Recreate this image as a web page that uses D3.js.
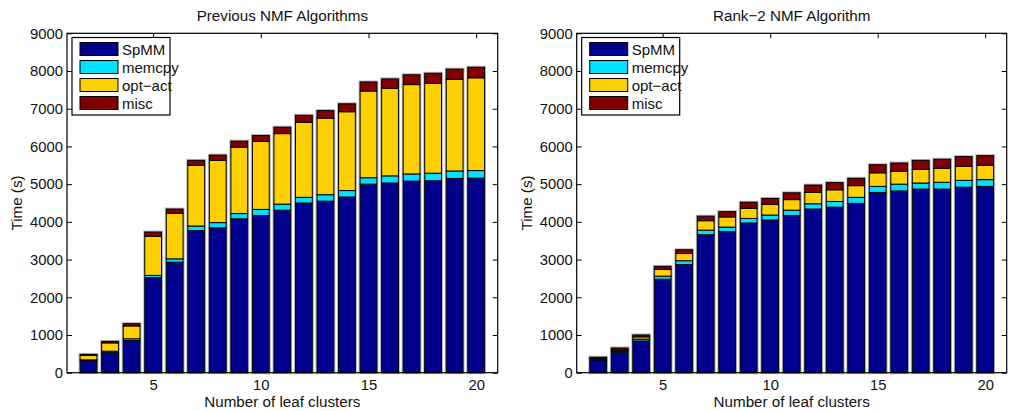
<!DOCTYPE html>
<html><head><meta charset="utf-8">
<script src="https://cdn.jsdelivr.net/npm/d3@7"></script>
<style>
body{margin:0;background:#fff;}
text{font-family:"Liberation Sans",Arial,Helvetica,sans-serif;}
</style></head>
<body><svg id="c" width="1011" height="411"></svg>
<script>
const clusters = [2,3,4,5,6,7,8,9,10,11,12,13,14,15,16,17,18,19,20];
const seriesNames = ["SpMM","memcpy","opt\u2212act","misc"];
const seriesColors = ["#00008f","#00e0ff","#ffd000","#800000"];
const yTicks = [0,1000,2000,3000,4000,5000,6000,7000,8000,9000];
const xTicks = [5,10,15,20];

// Previous NMF Algorithms
const prevSpMM   = [330,540,850,2520,2930,3770,3840,4080,4170,4310,4500,4550,4660,5000,5030,5080,5090,5150,5160];
const prevMemcpy = [10,30,50,60,90,120,140,140,160,160,150,170,170,170,190,190,200,200,200];
const prevOptAct = [120,220,340,1040,1210,1610,1650,1760,1800,1870,1990,2030,2090,2300,2320,2370,2380,2430,2460];
const prevMisc   = [25,40,60,110,110,130,140,160,160,170,185,200,210,240,250,260,270,270,280];

// Rank-2 NMF Algorithm
const r2SpMM   = [340,545,840,2480,2870,3660,3740,3970,4050,4170,4340,4390,4490,4780,4820,4870,4870,4920,4940];
const r2Memcpy = [20,30,50,80,100,120,120,120,130,140,140,150,160,160,180,160,180,180,180];
const r2OptAct = [20,30,60,180,190,250,270,270,280,280,300,310,310,360,340,360,370,370,380];
const r2Misc   = [30,50,50,80,100,120,140,160,160,180,195,190,195,215,220,240,240,260,255];

const svg = d3.select("#c");
const plotTop = 33.3, plotBottom = 372.7;
const FS = "15.2px";

function panel(x0, x1, title, series){
  const g = svg.append("g");
  const x = d3.scaleLinear().domain([1,21]).range([x0,x1]);
  const y = d3.scaleLinear().domain([0,9000]).range([plotBottom,plotTop]);
  const bw = x(1.78) - x(1);

  // axes
  const ax = g.append("g").attr("class","axes");
  ax.append("g").attr("transform",`translate(${x0},0)`)
    .call(d3.axisLeft(y).tickValues(yTicks).tickSize(-5).tickPadding(4).tickFormat(d3.format("d")));
  ax.append("g").attr("transform",`translate(${x1},0)`)
    .call(d3.axisRight(y).tickValues(yTicks).tickSize(-5).tickFormat(""));
  ax.append("g").attr("transform",`translate(0,${plotTop})`)
    .call(d3.axisTop(x).tickValues(xTicks).tickSize(-5).tickFormat(""));
  ax.append("g").attr("transform",`translate(0,${plotBottom})`)
    .call(d3.axisBottom(x).tickValues(xTicks).tickSize(-5).tickPadding(7).tickFormat(d3.format("d")));
  ax.selectAll(".domain").remove();
  ax.selectAll("line").attr("stroke","#000");
  ax.selectAll("text").attr("font-size","14.8px").attr("fill","#111")
    .attr("font-family","'Liberation Sans',Arial,sans-serif");

  // stacked bars
  const rows = clusters.map((c,i)=>{
    const o={c};
    series.forEach((s,k)=>o["s"+k]=s[i]);
    return o;
  });
  const keys = series.map((s,k)=>"s"+k);
  const stack = d3.stack().keys(keys)(rows);
  // light halo around each whole bar
  g.append("g").selectAll("rect").data(rows).join("rect")
    .attr("x",d=>x(d.c)-bw/2)
    .attr("width",bw)
    .attr("y",d=>y(d3.sum(keys,k=>d[k])))
    .attr("height",d=>y(0)-y(d3.sum(keys,k=>d[k])))
    .attr("fill","none").attr("stroke","#b8b8b8").attr("stroke-width",3);
  stack.forEach((layer,k)=>{
    g.append("g").selectAll("rect").data(layer).join("rect")
      .attr("x",d=>x(d.data.c)-bw/2)
      .attr("width",bw)
      .attr("y",d=>y(d[1]))
      .attr("height",d=>Math.max(0,y(d[0])-y(d[1])))
      .attr("fill",seriesColors[k])
      .attr("stroke","#000").attr("stroke-width",1);
  });

  // box
  g.append("rect").attr("x",x0).attr("y",plotTop).attr("width",x1-x0).attr("height",plotBottom-plotTop)
    .attr("fill","none").attr("stroke","#000").attr("stroke-width",1.2);

  // legend
  const lx = x0+5, ly = 37.5;
  const lg = g.append("g");
  lg.append("rect").attr("x",lx).attr("y",ly).attr("width",98).attr("height",77.5)
    .attr("fill","#fff").attr("stroke","#000").attr("stroke-width",1.2);
  seriesNames.forEach((n,k)=>{
    const yy = ly+5 + k*18;
    lg.append("rect").attr("x",lx+8).attr("y",yy).attr("width",38).attr("height",13)
      .attr("fill",seriesColors[k]).attr("stroke","#000").attr("stroke-width",1);
    lg.append("text").attr("x",lx+50).attr("y",yy+12).attr("font-size","15px").attr("fill","#111").text(n);
  });

  // title and labels
  g.append("text").attr("x",(x0+x1)/2).attr("y",20.5).attr("text-anchor","middle")
    .attr("font-size",FS).attr("fill","#111").text(title);
  g.append("text").attr("x",(x0+x1)/2).attr("y",406.5).attr("text-anchor","middle")
    .attr("font-size",FS).attr("fill","#111").text("Number of leaf clusters");
  g.append("text").attr("transform",`translate(${x0-45},${(plotTop+plotBottom)/2}) rotate(-90)`)
    .attr("text-anchor","middle").attr("font-size",FS).attr("fill","#111").text("Time (s)");
}

panel(67, 497.7, "Previous NMF Algorithms", [prevSpMM,prevMemcpy,prevOptAct,prevMisc]);
panel(576.7, 1006.7, "Rank\u22122 NMF Algorithm", [r2SpMM,r2Memcpy,r2OptAct,r2Misc]);
</script></body></html>
